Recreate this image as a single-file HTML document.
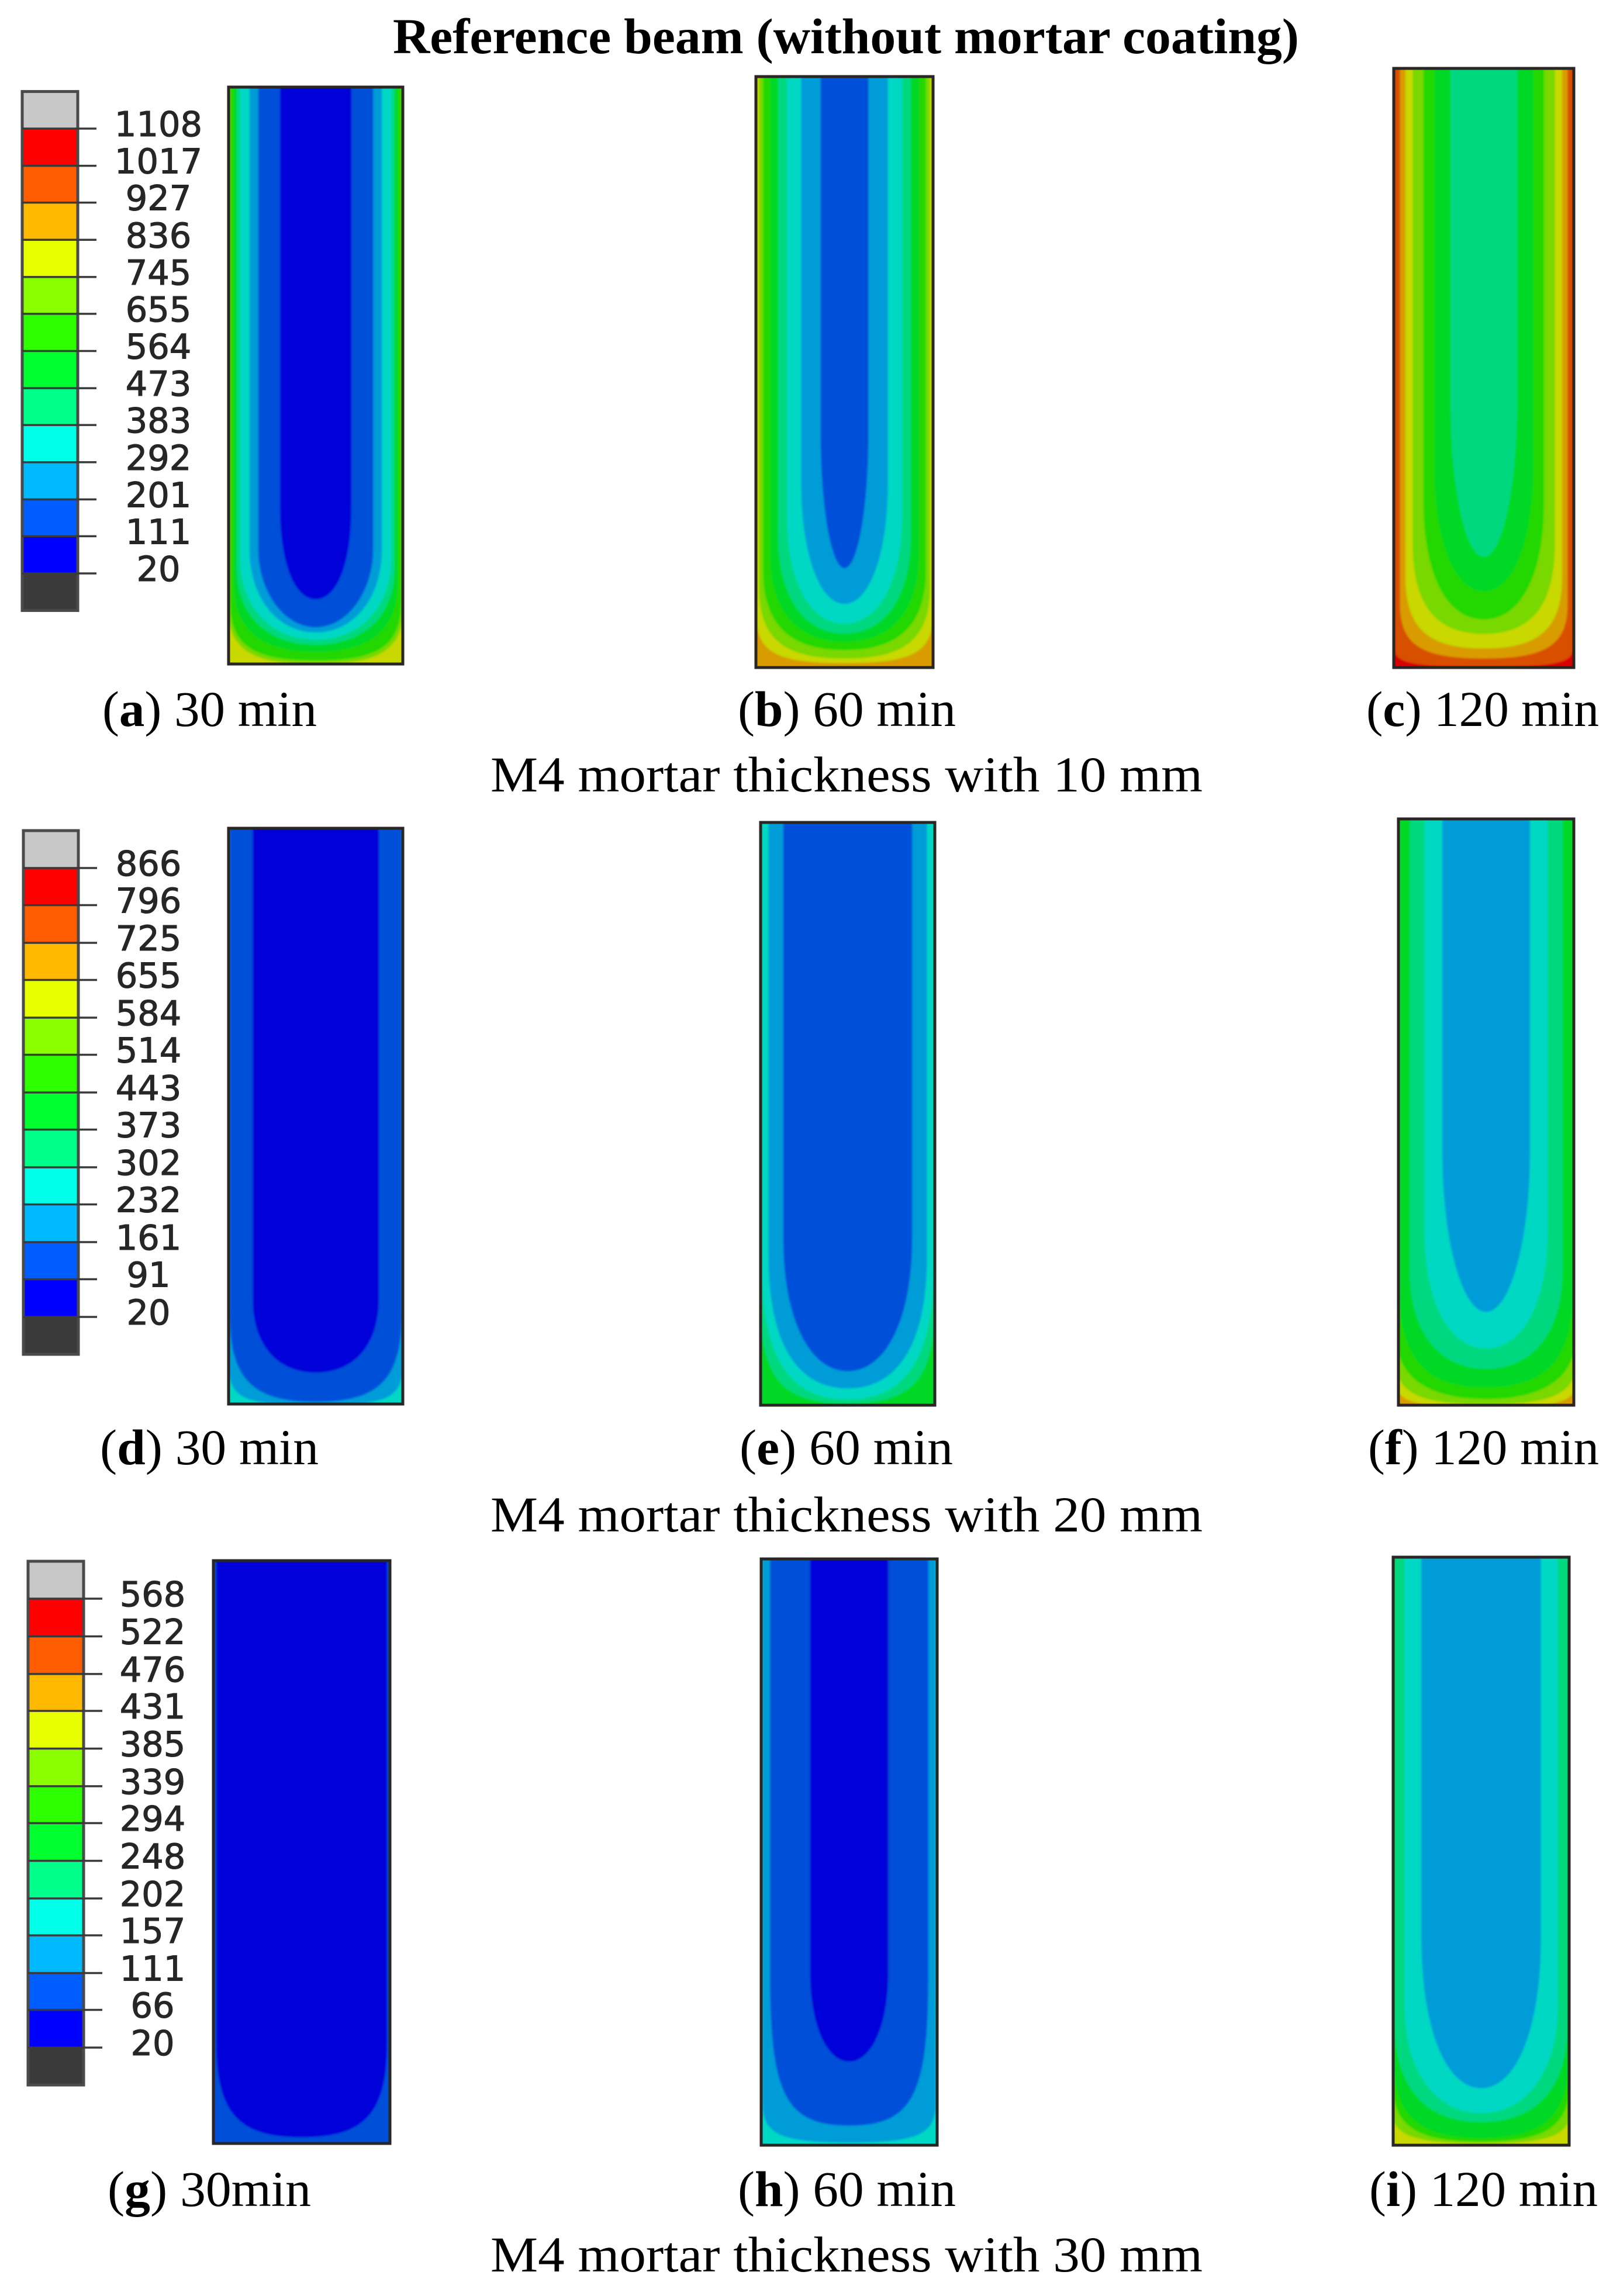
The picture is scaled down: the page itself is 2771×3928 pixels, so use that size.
<!DOCTYPE html>
<html lang="en">
<head>
<meta charset="utf-8">
<title>Reference beam temperature contours</title>
<style>
html,body{margin:0;padding:0;background:#fff;}
svg{display:block;}
.cap{font-family:"Liberation Serif",serif;font-size:86px;fill:#000;}
.lbl{font-family:"DejaVu Sans",sans-serif;font-size:59px;fill:#262626;stroke:#262626;stroke-width:1.1px;text-anchor:middle;}
</style>
</head>
<body>
<svg id="fig" xmlns="http://www.w3.org/2000/svg" width="2771" height="3928" viewBox="0 0 2771 3928">
<defs>
<filter id="soft" x="-5%" y="-5%" width="110%" height="110%"><feGaussianBlur stdDeviation="1.6"/></filter>
</defs>
<rect width="2771" height="3928" fill="#fff"/>

<text class="cap" x="672" y="91" font-weight="bold" textLength="1550" lengthAdjust="spacingAndGlyphs">Reference beam (without mortar coating)</text>

<text class="cap" x="175" y="1242" textLength="367" lengthAdjust="spacingAndGlyphs">(<tspan font-weight="bold">a</tspan>) 30 min</text>
<text class="cap" x="1262" y="1242" textLength="373" lengthAdjust="spacingAndGlyphs">(<tspan font-weight="bold">b</tspan>) 60 min</text>
<text class="cap" x="2337" y="1242" textLength="398" lengthAdjust="spacingAndGlyphs">(<tspan font-weight="bold">c</tspan>) 120 min</text>
<text class="cap" x="839" y="1354" textLength="1218" lengthAdjust="spacingAndGlyphs">M4 mortar thickness with 10 mm</text>

<text class="cap" x="171" y="2505" textLength="374" lengthAdjust="spacingAndGlyphs">(<tspan font-weight="bold">d</tspan>) 30 min</text>
<text class="cap" x="1265" y="2505" textLength="365" lengthAdjust="spacingAndGlyphs">(<tspan font-weight="bold">e</tspan>) 60 min</text>
<text class="cap" x="2340" y="2505" textLength="395" lengthAdjust="spacingAndGlyphs">(<tspan font-weight="bold">f</tspan>) 120 min</text>
<text class="cap" x="839" y="2620" textLength="1218" lengthAdjust="spacingAndGlyphs">M4 mortar thickness with 20 mm</text>

<text class="cap" x="184" y="3774" textLength="348" lengthAdjust="spacingAndGlyphs">(<tspan font-weight="bold">g</tspan>) 30min</text>
<text class="cap" x="1262" y="3774" textLength="373" lengthAdjust="spacingAndGlyphs">(<tspan font-weight="bold">h</tspan>) 60 min</text>
<text class="cap" x="2342" y="3774" textLength="391" lengthAdjust="spacingAndGlyphs">(<tspan font-weight="bold">i</tspan>) 120 min</text>
<text class="cap" x="839" y="3886" textLength="1218" lengthAdjust="spacingAndGlyphs">M4 mortar thickness with 30 mm</text>
</svg>

<script>
// Legend tick values (temperature, top to bottom)
const legendValuesTop = [1108,1017,927,836,745,655,564,473,383,292,201,111,20];
const legendValuesMiddle = [866,796,725,655,584,514,443,373,302,232,161,91,20];
const legendValuesBottom = [568,522,476,431,385,339,294,248,202,157,111,66,20];

// Isotherm bands per panel. First row: hottest base level.
// Other rows: [level, inset from side (mm), height of tip above soffit (mm), straight-to-tip rise (mm), squareness]
const bandsA = [[8],[7,-4,0,90,.8],[6,1.5,4,70,.75],[5,6,14,80,.68],[4,9,22,90,.62],[3,13,28,95,.6],[2,24,36,95,.58],[1,34,42,90,.55],[0,59,74,104,.6]];
const bandsB = [[9],[8,-.5,5,60,.8],[7,3.5,10,80,.72],[6,8,19.5,90,.68],[5,16,29,100,.65],[4,25,38,110,.62],[3,35,49,120,.6],[2,51,71,135,.58],[1,73,111,150,.55]];
const bandsC = [[11],[10,1,1,20,.8],[9,7,10,60,.75],[8,13,21,80,.72],[7,21,37,100,.68],[6,33,53,130,.62],[5,45,84,140,.6],[4,63,122,170,.55]];
const bandsD = [[3],[2,-1,-.5,60,.9],[1,1,2.5,105,.75],[0,27.5,36,85,.62]];
const bandsE = [[5],[4,.5,2,110,.75],[3,1.5,6.5,150,.68],[2,9,19,150,.65],[1,26,38.5,150,.6]];
const bandsF = [[9],[8,-4,-2,35,.85],[7,-3,1,50,.75],[6,-2,7,70,.65],[5,1,20,110,.7],[4,13,41,110,.62],[3,30,64,130,.6],[2,50,105,180,.55]];
const bandsG = [[1],[0,3,7,110,.75]];
const bandsH = [[3],[2,1.5,3,45,.8],[1,10,22,170,.8],[0,55.5,94,100,.58]];
const bandsI = [[8],[7,-3,2,45,.8],[6,-1,4,70,.75],[5,.5,8,90,.72],[4,2,26,110,.65],[3,13,36,120,.6],[2,32,64,170,.6]];

const BEAM_WIDTH = 200;
const BEAM_HEIGHT = 660;

const legendColors = ['#0000ff','#005dff','#00b9ff','#00ffe8','#00ff8b','#00ff2e','#2eff00','#8bff00','#e8ff00','#ffb900','#ff5d00','#ff0000'];
const contourColors = ['#0000d8','#0050d8','#009cd8','#00d8c4','#00d880','#00d828','#20d800','#78d800','#c8d800','#d89c00','#d85000','#d80000'];

const svg = document.getElementById('fig');
const NS = 'http://www.w3.org/2000/svg';

function make(tag, attrs, parent) {
  const el = document.createElementNS(NS, tag);
  for (const k in attrs) el.setAttribute(k, attrs[k]);
  parent.appendChild(el);
  return el;
}

function drawPanel(id, bands, x0, y0, x1, y1) {
  const xMm = mm => x0 + mm / BEAM_WIDTH * (x1 - x0);
  const yMm = mm => y1 - mm / BEAM_HEIGHT * (y1 - y0);

  const clip = make('clipPath', {id: 'clip-' + id}, svg);
  make('rect', {x: x0, y: y0, width: x1 - x0, height: y1 - y0}, clip);

  const group = make('g', {'clip-path': 'url(#clip-' + id + ')'}, svg);
  
  
  const soft = make('g', {filter: 'url(#soft)'}, group);

  const base = make('rect', {x: x0 - 20, y: y0 - 20, width: x1 - x0 + 40, height: y1 - y0 + 40, fill: contourColors[bands[0][0]]}, soft);
  
  

  bands.slice(1).forEach(function (b) {
    const level = b[0], side = b[1], tip = b[2], rise = b[3], k = b[4];
    const mid = BEAM_WIDTH / 2;
    const half = mid - side;
    const yT = tip, yB = tip + rise;
    const d = [
      'M', xMm(side), y0 - 20,
      'L', xMm(side), yMm(yB),
      'C', xMm(side), yMm(yB - k * rise), xMm(mid - k * half), yMm(yT), xMm(mid), yMm(yT),
      'C', xMm(mid + k * half), yMm(yT), xMm(BEAM_WIDTH - side), yMm(yB - k * rise), xMm(BEAM_WIDTH - side), yMm(yB),
      'L', xMm(BEAM_WIDTH - side), y0 - 20, 'Z'
    ].join(' ');
    const band = make('path', {d: d, fill: contourColors[level]}, soft);
    
    
  });

  const frame = make('rect', {x: x0, y: y0, width: x1 - x0, height: y1 - y0, fill: 'none', stroke: '#2b2626', 'stroke-width': 5}, svg);
  
  
}

function drawLegend(values, x0, x1, yFirst, yLast, labelX) {
  const max = values[0], min = values[values.length - 1];
  const yVal = v => yFirst + (max - v) / (max - min) * (yLast - yFirst);
  const step = (yLast - yFirst) / (values.length - 1);
  const g = make('g', {}, svg);
  
  

  const top = make('rect', {x: x0, y: yFirst - step, width: x1 - x0, height: step, fill: '#c8c8c8'}, g);
  
  
  const bottom = make('rect', {x: x0, y: yLast, width: x1 - x0, height: step, fill: '#3a3a3a'}, g);
  
  

  for (let i = 0; i < values.length - 1; i++) {
    const seg = make('rect', {
      x: x0, y: yVal(values[i]), width: x1 - x0,
      height: yVal(values[i + 1]) - yVal(values[i]),
      fill: legendColors[values.length - 2 - i]
    }, g);
    
    
  }

  const border = make('rect', {x: x0, y: yFirst - step, width: x1 - x0, height: yLast - yFirst + 2 * step, fill: 'none', stroke: '#4a4a4a', 'stroke-width': 5}, g);
  
  

  values.forEach(function (v) {
    const tick = make('line', {x1: x0, x2: x1 + 32, y1: yVal(v), y2: yVal(v), stroke: '#3a3a3a', 'stroke-width': 3.5}, g);
    
    
    const label = make('text', {class: 'lbl', x: labelX, y: yVal(v) + 13}, g);
    
    
    label.textContent = String(v);
  });
}

drawLegend(legendValuesTop, 38, 133, 220, 981, 271);
drawLegend(legendValuesMiddle, 40, 134, 1485, 2253, 254);
drawLegend(legendValuesBottom, 48, 143, 2735, 3503, 261);

drawPanel('a', bandsA, 391, 149, 689, 1136);
drawPanel('b', bandsB, 1293, 131, 1596, 1142);
drawPanel('c', bandsC, 2384, 117, 2692, 1142);
drawPanel('d', bandsD, 391, 1417, 689, 2402);
drawPanel('e', bandsE, 1301, 1407, 1599, 2404);
drawPanel('f', bandsF, 2392, 1401, 2692, 2404);
drawPanel('g', bandsG, 365, 2670, 667, 3667);
drawPanel('h', bandsH, 1302, 2667, 1603, 3670);
drawPanel('i', bandsI, 2383, 2664, 2684, 3670);
</script>
</body>
</html>
